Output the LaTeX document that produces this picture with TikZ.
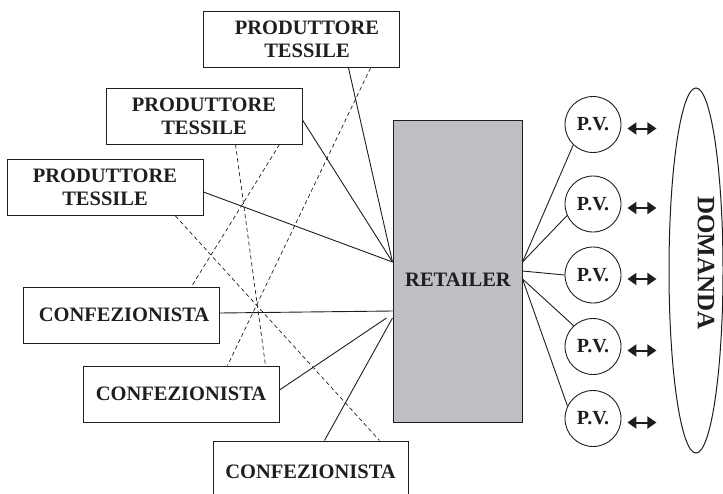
\documentclass[tikz,border=0pt]{standalone}
\usepackage{fontspec}
\setmainfont{Liberation Serif}
\usetikzlibrary{arrows.meta,shapes.geometric,calc}
\definecolor{retgray}{RGB}{190,191,196}
\definecolor{inkc}{RGB}{30,30,30}
\tikzset{
  boxnode/.style={draw=inkc, line width=1pt, rectangle, inner sep=0pt, minimum width=196pt, minimum height=56pt, align=center, text=inkc, font=\bfseries\fontsize{20.5}{23}\selectfont},
  pvnode/.style={draw=inkc, line width=0.9pt, circle, minimum size=56pt, inner sep=0pt, text=inkc, font=\bfseries\fontsize{20}{22}\selectfont},
  conn/.style={draw=inkc, line width=0.9pt},
  dashline/.style={draw=inkc, line width=0.7pt, dash pattern=on 4pt off 3pt},
  dblarrow/.style={draw=inkc, line width=2pt, {Triangle[length=9pt,width=12pt]}-{Triangle[length=9pt,width=12pt]}},
}
\begin{document}
\begin{tikzpicture}[x=1pt,y=-1pt]
\useasboundingbox (0,0) rectangle (723,493);
\clip (0,0) rectangle (723,493);
% boxes
\node[boxnode] (pt1) at (301,39.5) {\hspace*{12pt}PRODUTTORE\\\hspace*{12pt}TESSILE};
\node[boxnode] (pt2) at (204,116) {PRODUTTORE\\TESSILE};
\node[boxnode] (pt3) at (105,187.5) {PRODUTTORE\\TESSILE};
\node[boxnode] (c1) at (121,315) {\hspace*{6pt}CONFEZIONISTA};
\node[boxnode] (c2) at (181,394) {CONFEZIONISTA};
\node[boxnode, minimum height=62pt, minimum width=195pt] (c3) at (310.5,472) {CONFEZIONISTA};
% retailer
\node[draw=inkc, line width=1pt, fill=retgray, minimum width=129pt, minimum height=302pt, inner sep=0pt] (ret) at (457.5,271) {};
\node[text=inkc, font=\bfseries\fontsize{20.5}{23}\selectfont] (retlabel) at (458,280) {RETAILER};
% points of sale
\node[pvnode] (pv1) at (593,124.5) {P.V.};
\node[pvnode] (pv2) at (593,204) {P.V.};
\node[pvnode] (pv3) at (593,275) {P.V.};
\node[pvnode] (pv4) at (593,346.5) {P.V.};
\node[pvnode] (pv5) at (593,418.5) {P.V.};
% demand
\node[draw=inkc, line width=1pt, ellipse, minimum width=54pt, minimum height=365pt, inner sep=0pt] (dom) at (696,270.5) {};
\node[text=inkc, rotate=-90, font=\bfseries\fontsize{25}{28}\selectfont] (domlabel) at (706,263) {DOMANDA};
% solid connectors to retailer
\draw[conn] ([xshift=146pt]pt1.south west) -- ([yshift=9pt]ret.west);
\draw[conn] ([yshift=-4pt]pt2.east) -- ([yshift=9pt]ret.west);
\draw[conn] ([yshift=-4.5pt]pt3.east) -- ([yshift=9pt]ret.west);
\draw[conn] ([yshift=2pt]c1.east) -- ([yshift=-40pt]ret.west);
\draw[conn] ([yshift=4pt]c2.east) -- ([xshift=-6pt,yshift=-47pt]ret.west);
\draw[conn] ([xshift=112pt]c3.north west) -- ([yshift=-47pt]ret.west);
% dashed connectors
\draw[dashline] ([xshift=168pt]pt1.south west) -- ([xshift=145pt]c2.north west);
\draw[dashline] ([xshift=130pt]pt2.south west) -- ([xshift=183pt]c2.north west);
\draw[dashline] ([xshift=174pt]pt2.south west) -- ([xshift=169pt]c1.north west);
\draw[dashline] ([xshift=169pt]pt3.south west) -- ([xshift=167pt]c3.north west);
% retailer to points of sale
\draw[conn] ([yshift=9pt]ret.east) -- (pv1.226);
\draw[conn] ([yshift=9pt]ret.east) -- (pv2.204);
\draw[conn] (ret.east) -- (pv3.180);
\draw[conn] ([yshift=-8pt]ret.east) -- (pv4.133);
\draw[conn] ([yshift=-8pt]ret.east) -- (pv5.154);
% double arrows
\foreach \p in {pv1,pv2,pv3,pv4,pv5}{
  \draw[dblarrow] ([xshift=6pt,yshift=-4pt]\p.east) -- ([xshift=35pt,yshift=-4pt]\p.east);
}
\end{tikzpicture}
\end{document}
